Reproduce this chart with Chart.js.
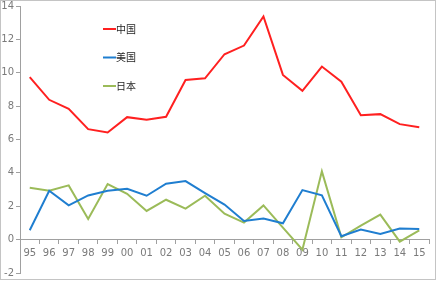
<!DOCTYPE html>
<html>
<head>
<meta charset="utf-8">
<script src="https://cdn.jsdelivr.net/npm/chart.js@4.4.0/dist/chart.umd.min.js"></script>
<style>
    body { margin: 0; background: #fff; }
    #wrap { position: absolute; left: 0; top: 0; width: 434px; height: 278px; border: 1px solid #c4c4c4; }
    canvas { display: block; }
</style>
</head>
<body>
<div id="wrap"><canvas id="growthChart" width="434" height="278"></canvas></div>
<script>
const years = ['95', '96', '97', '98', '99', '00', '01', '02', '03', '04', '05', '06', '07', '08', '09', '10', '11', '12', '13', '14', '15'];
const seriesNames = ['中国', '美国', '日本'];
const china = [9.74, 8.38, 7.84, 6.62, 6.42, 7.34, 7.18, 7.36, 9.57, 9.67, 11.11, 11.63, 13.37, 9.87, 8.92, 10.37, 9.46, 7.46, 7.52, 6.92, 6.74];
const usa = [0.56, 2.93, 2.05, 2.65, 2.93, 3.05, 2.63, 3.35, 3.51, 2.79, 2.1, 1.12, 1.26, 0.98, 2.97, 2.65, 0.2, 0.6, 0.34, 0.66, 0.64];
const japan = [3.11, 2.93, 3.25, 1.24, 3.33, 2.75, 1.72, 2.39, 1.86, 2.63, 1.55, 1.02, 2.05, 0.72, -0.6, 4.09, 0.14, 0.84, 1.5, -0.12, 0.56];
const colors = ['#ff2020', '#1f7ed0', '#9bbb59'];

// legend drawn inside the plot, like the original
const innerLegend = {
    id: 'innerLegend',
    afterDraw(chart) {
        const ctx = chart.ctx;
        ctx.save();
        ctx.font = '10px "Noto Sans CJK SC"';
        ctx.textBaseline = 'middle';
        seriesNames.forEach((name, i) => {
            const y = 28 + i * 28.5;
            ctx.strokeStyle = colors[i];
            ctx.lineWidth = 2;
            ctx.beginPath();
            ctx.moveTo(102, y);
            ctx.lineTo(115, y);
            ctx.stroke();
            ctx.fillStyle = '#262626';
            ctx.fillText(name, 115, y);
        });
        ctx.restore();
    }
};

const datasets = [china, usa, japan].map((data, i) => ({
    label: seriesNames[i],
    data: data,
    borderColor: colors[i],
    backgroundColor: colors[i],
    borderWidth: 2,
    pointRadius: 0,
    tension: 0,
    fill: false
}));

new Chart(document.getElementById('growthChart').getContext('2d'), {
    type: 'line',
    data: { labels: years, datasets: datasets },
    plugins: [innerLegend],
    options: {
        responsive: false,
        animation: false,
        layout: { padding: { top: 5, right: 6, bottom: 6, left: 0 } },
        plugins: {
            legend: { display: false },
            tooltip: { enabled: false }
        },
        scales: {
            x: {
                position: { y: 0 },
                offset: true,
                grid: { offset: true, drawOnChartArea: false, tickLength: 4, color: '#a0a0a0' },
                border: { color: '#a0a0a0' },
                ticks: { color: '#7a7a7a', font: { size: 10, family: 'DejaVu Sans' }, padding: 4, maxRotation: 0, autoSkip: false }
            },
            y: {
                min: -2,
                max: 14,
                afterFit(scale) {
                    scale.width = 19;
                    scale.paddingTop = 0;
                    scale.paddingBottom = 0;
                },
                grid: { drawOnChartArea: false, tickLength: 4, color: '#a0a0a0' },
                border: { color: '#a0a0a0' },
                ticks: { stepSize: 2, color: '#7a7a7a', font: { size: 10, family: 'DejaVu Sans' }, padding: 2 }
            }
        }
    }
});
</script>
</body>
</html>
